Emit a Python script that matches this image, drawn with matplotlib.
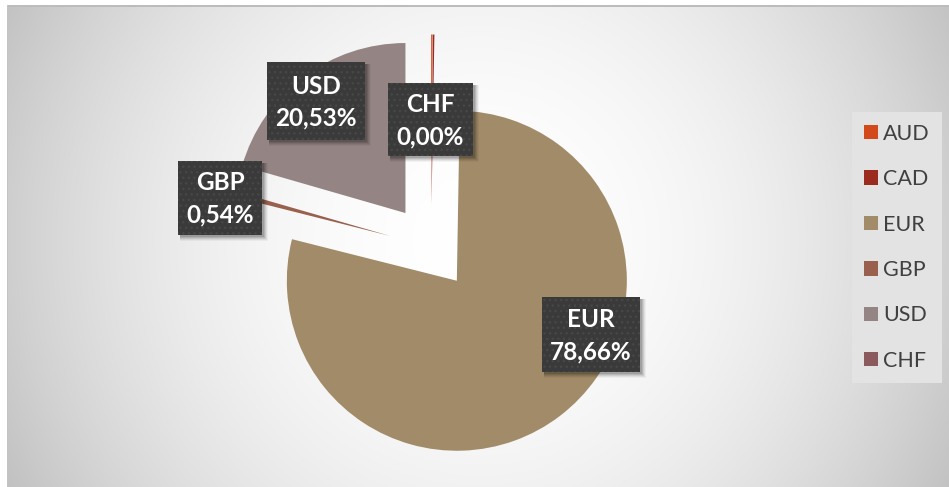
import numpy as np
import matplotlib
matplotlib.use("Agg")
import matplotlib.pyplot as plt
from matplotlib.patches import Rectangle

# ---- data ----
currencies = ["AUD", "CAD", "EUR", "GBP", "USD", "CHF"]
shares = [0.12, 0.15, 78.66, 0.54, 20.53, 0.00]
colors = ["#d24a1b", "#9b2b1f", "#a28b69", "#9a604e", "#948484", "#8a5a5c"]
shown_labels = ["EUR", "GBP", "USD", "CHF"]

W, H = 949, 487
fig = plt.figure(figsize=(W / 100, H / 100), dpi=100)

# ---- background gradient ----
bg = fig.add_axes([0, 0, 1, 1], zorder=0)
yy, xx = np.mgrid[0:H, 0:W]
d = np.hypot(xx - 480, yy - 240)
val = 1 - 0.19 * (d / 472) ** 2
val = np.clip(val, 0, 1)
img = np.dstack([val, val, val])
img[:, :7, :] = 1.0
img[:5, :, :] = 1.0
img[5:7, 7:, :] = 0.74
img[5:, 7:8, :] = 0.77
bg.imshow(img, extent=(0, W, H, 0), aspect="auto", interpolation="nearest")
bg.set_xlim(0, W)
bg.set_ylim(H, 0)
bg.axis("off")

# ---- pie ----
R = 170.0
cx, cy = 431.0, 247.0
ax = fig.add_axes([0, 0, 1, 1], zorder=1)
ax.patch.set_alpha(0)
wedges, _ = ax.pie(shares, colors=colors, startangle=90, counterclock=False,
                   explode=[0.25] * len(shares), radius=1,
                   wedgeprops=dict(linewidth=0))
ax.set_aspect("auto")
ax.set_xlim(-cx / R, (W - cx) / R)
ax.set_ylim(-(H - cy) / R, cy / R)
ax.axis("off")

# ---- data labels (boxes in pixel coords, top-left origin) ----
label_boxes = {
    "USD": (267, 62, 365, 140),
    "CHF": (388, 83, 473, 156),
    "GBP": (178, 161, 262, 235),
    "EUR": (542, 297, 640, 372),
}
lab_ax = fig.add_axes([0, 0, 1, 1], zorder=2)
lab_ax.set_xlim(0, W)
lab_ax.set_ylim(H, 0)
lab_ax.axis("off")
for name in shown_labels:
    i = currencies.index(name)
    x0, y0, x1, y1 = label_boxes[name]
    # soft shadow
    for k, a in zip([6, 5, 4, 3, 2], [0.04, 0.06, 0.08, 0.10, 0.12]):
        lab_ax.add_patch(Rectangle((x0 + 2, y0 + 2), x1 - x0 + k - 2, y1 - y0 + k - 2,
                                   facecolor="black", alpha=a, linewidth=0))
    lab_ax.add_patch(Rectangle((x0, y0), x1 - x0, y1 - y0, facecolor="#3a3a3a",
                               edgecolor="#474747", linewidth=0, hatch="..."))
    mx = (x0 + x1) / 2
    my = (y0 + y1) / 2
    pct = f"{shares[i]:.2f}".replace(".", ",") + "%"
    lab_ax.text(mx, my - 15, name, color="white", fontsize=17.5, fontweight="bold",
                family="Lato", ha="center", va="center")
    lab_ax.text(mx, my + 17, pct, color="white", fontsize=17.5, fontweight="bold",
                family="Lato", ha="center", va="center")

# ---- legend ----
leg = ax.legend(wedges, currencies, loc="upper left",
                bbox_to_anchor=(852 / W, 1 - 112 / H), bbox_transform=fig.transFigure,
                borderaxespad=0, frameon=True, fancybox=False, framealpha=1,
                facecolor="#e3e3e3", edgecolor="none",
                prop=dict(family="Lato", size=15.5),
                handlelength=0.65, handleheight=0.65, handletextpad=0.25,
                labelspacing=1.18, borderpad=0.55)
for t in leg.get_texts():
    t.set_color("#404040")

fig.savefig("out.png", dpi=100)
